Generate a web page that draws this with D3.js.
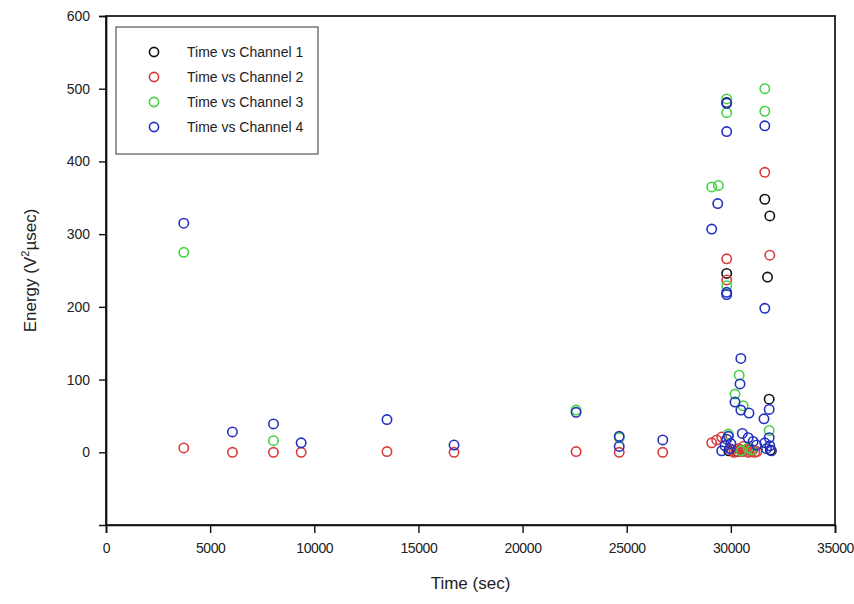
<!DOCTYPE html>
<html>
<head>
<meta charset="utf-8">
<script src="https://cdn.jsdelivr.net/npm/d3@7"></script>
<style>
  html, body { margin: 0; padding: 0; background: #fff; }
  svg { display: block; font-family: "Liberation Sans", Arial, sans-serif; }
</style>
</head>
<body>
<svg id="chart" width="854" height="604"></svg>
<script>
// Acoustic emission energy per channel against test time
const timeCh1 = [29800, 29800, 31630, 31870, 31760, 31840, 29900, 31900, 30300];
const energyCh1 = [481, 246, 348, 325, 241, 73, 2, 3, 1];

const timeCh2 = [3735, 6070, 8040, 9370, 13490, 16710, 22570, 24640, 26730, 31630, 29800, 31870, 29800,
  29080, 29320, 29560, 30050, 30250, 30450, 30650, 30850, 31050, 31250, 30900, 30600,
  30150, 30350, 30550, 30750, 30950, 31150];
const energyCh2 = [6, 0, 0, 0, 1, 0, 1, 0, 0, 385, 266, 271, 237,
  13, 17, 21, 3, 1, 4, 2, 0, 3, 1, 6, 8,
  0, 5, 1, 4, 2, 0];

const timeCh3 = [3735, 8040, 22570, 24640, 29800, 29800, 31630, 31630, 29080, 29400, 29800, 30400,
  30200, 30590, 31840, 29880, 30830, 31000, 30500];
const energyCh3 = [275, 16, 58, 20, 486, 467, 500, 469, 365, 367, 229, 106,
  80, 64, 30, 25, 6, 3, 2];

const timeCh4 = [3735, 6070, 8040, 9370, 13490, 16710, 22570, 24640, 24640, 26730, 29800, 29800, 31630,
  29370, 29080, 29800, 29800, 31630, 30480, 30440, 30200, 30480, 30870, 31840, 31590, 31840, 30550,
  29880, 29800, 29720, 29560, 30830, 31070, 31230, 31630, 31870, 31950, 31710, 30000, 29950];
const energyCh4 = [315, 28, 39, 13, 45, 10, 55, 22, 8, 17, 480, 441, 449,
  342, 307, 220, 217, 198, 129, 94, 69, 58, 54, 59, 46, 20, 26,
  22, 18, 9, 2, 20, 15, 10, 13, 9, 2, 5, 12, 5];

const seriesNames = ["Time vs Channel 1", "Time vs Channel 2", "Time vs Channel 3", "Time vs Channel 4"];
const seriesColors = ["#111111", "#d83a3a", "#44d244", "#2430c0"];
const xTicks = [0, 5000, 10000, 15000, 20000, 25000, 30000, 35000];
const yTicks = [0, 100, 200, 300, 400, 500, 600];

const series = [
  { t: timeCh1, e: energyCh1 },
  { t: timeCh2, e: energyCh2 },
  { t: timeCh3, e: energyCh3 },
  { t: timeCh4, e: energyCh4 }
];

const svg = d3.select("#chart");
const plotLeft = 106, plotRight = 835, plotTop = 16, plotBottom = 525;

const x = d3.scaleLinear().domain([0, 35000]).range([plotLeft, plotRight]);
const y = d3.scaleLinear().domain([-100, 600]).range([plotBottom, plotTop]);

// frame
svg.append("rect")
  .attr("x", plotLeft).attr("y", plotTop)
  .attr("width", plotRight - plotLeft).attr("height", plotBottom - plotTop)
  .attr("fill", "none").attr("stroke", "#111").attr("stroke-width", 1.7);

// x axis
const xAxis = svg.append("g")
  .attr("transform", `translate(0,${plotBottom})`)
  .call(d3.axisBottom(x).tickValues(xTicks).tickSize(8).tickPadding(10).tickFormat(d3.format("d")));
xAxis.select(".domain").attr("stroke", "#111").attr("stroke-width", 1.7);
xAxis.selectAll(".tick line").attr("stroke", "#111").attr("stroke-width", 1.4);
xAxis.selectAll(".tick text").attr("font-size", 14).attr("fill", "#222")
  .attr("letter-spacing", -0.4)
  .attr("font-family", "'Liberation Sans', Arial, sans-serif");

// y axis
const yAxis = svg.append("g")
  .attr("transform", `translate(${plotLeft},0)`)
  .call(d3.axisLeft(y).tickValues(yTicks).tickSize(7).tickPadding(9).tickFormat(d3.format("d")));
yAxis.select(".domain").attr("stroke", "#111").attr("stroke-width", 1.7);
yAxis.selectAll(".tick line").attr("stroke", "#111").attr("stroke-width", 1.4);
yAxis.selectAll(".tick text").attr("font-size", 14).attr("fill", "#222")
  .attr("font-family", "'Liberation Sans', Arial, sans-serif");

// axis titles
svg.append("text")
  .attr("x", (plotLeft + plotRight) / 2).attr("y", 589)
  .attr("text-anchor", "middle").attr("font-size", 17).attr("fill", "#222")
  .text("Time (sec)");

const yTitle = svg.append("text")
  .attr("transform", `translate(36,${(plotTop + plotBottom) / 2}) rotate(-90)`)
  .attr("text-anchor", "middle").attr("font-size", 17).attr("fill", "#222");
yTitle.append("tspan").text("Energy (V");
yTitle.append("tspan").attr("font-size", 11).attr("dy", -7).text("2");
yTitle.append("tspan").attr("dy", 7).text("µsec)");

// scatter points, channel 1 drawn first so channel 4 sits on top
series.forEach((s, i) => {
  svg.append("g")
    .selectAll("circle")
    .data(d3.zip(s.t, s.e))
    .join("circle")
    .attr("cx", d => x(d[0]))
    .attr("cy", d => y(d[1]))
    .attr("r", 4.7)
    .attr("fill", "none")
    .attr("stroke", seriesColors[i])
    .attr("stroke-width", 1.6);
});

// legend
const legend = svg.append("g");
legend.append("rect")
  .attr("x", 116).attr("y", 27).attr("width", 202).attr("height", 127)
  .attr("fill", "#fff").attr("stroke", "#333").attr("stroke-width", 1);
seriesNames.forEach((name, i) => {
  const cy = 52 + i * 25;
  legend.append("circle")
    .attr("cx", 154).attr("cy", cy).attr("r", 4.6)
    .attr("fill", "none").attr("stroke", seriesColors[i]).attr("stroke-width", 1.6);
  legend.append("text")
    .attr("x", 187).attr("y", cy + 5)
    .attr("font-size", 14).attr("fill", "#222")
    .text(name);
});
</script>
</body>
</html>
